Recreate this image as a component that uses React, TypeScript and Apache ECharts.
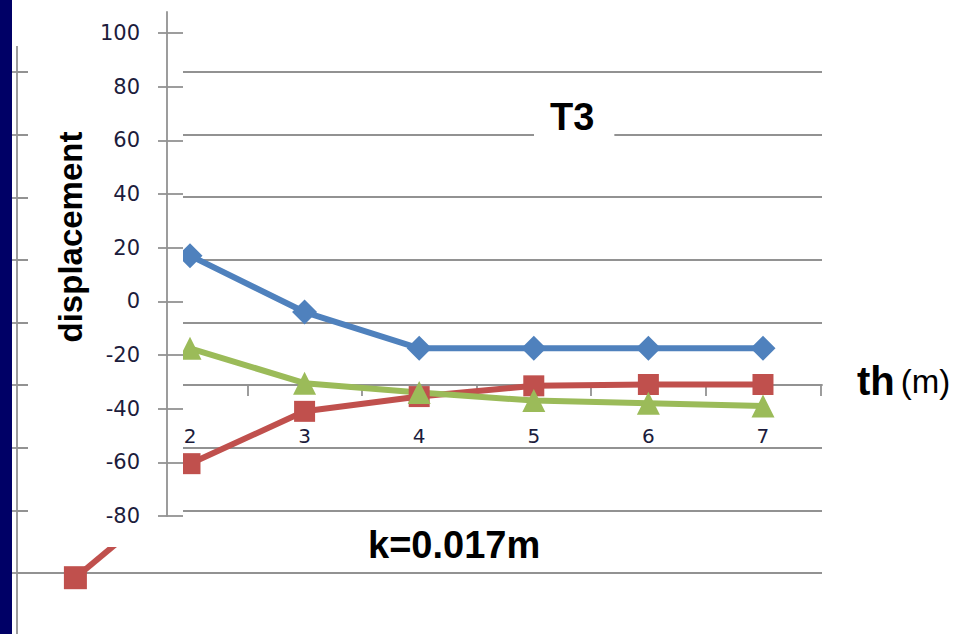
import { useEffect, useRef } from "react";
import * as echarts from "echarts";

// Thickness th (m) and displacement for the three series
const thValues = [2, 3, 4, 5, 6, 7];
const seriesBlue = [17, -4, -17.5, -17.5, -17.5, -17.5];
const seriesRed = [-60.5, -41, -35.5, -31.5, -31, -31];
const seriesGreen = [-17.5, -30.5, -34, -37, -38, -39];

// Axis tick values
const yTickValues = [-80, -60, -40, -20, 0, 20, 40, 60, 80, 100];
const thBoundaries = [2.5, 3.5, 4.5, 5.5, 6.5, 7.5];

// Underlying (partly covered) chart layer
const backTh = [1, 2];
const backRed = [-61.5, -31];

const pairs = (xs: number[], ys: number[]) => xs.map((x, i) => [x, ys[i]]);

const GRID_COLOR = "#929292";
const LABEL_COLOR = "#1c1c3c";
const SANS = "'Liberation Sans', Arial, sans-serif";
const LABEL_FONT = "'DejaVu Sans', Verdana, sans-serif";

export default function App() {
  const ref = useRef<HTMLDivElement>(null);

  useEffect(() => {
    if (!ref.current) return;
    const chart = echarts.init(ref.current, undefined, { renderer: "svg" });

    const thMin = 1.939;
    const thMax = 7.515;

    const gridLine = { show: true, lineStyle: { color: GRID_COLOR, width: 1.8 } };

    const frontTick = (inside: boolean, length: number) => ({
      show: true,
      inside,
      length,
      customValues: yTickValues,
      lineStyle: { color: GRID_COLOR, width: 1.8 },
    });

    const lineSeries = (
      name: string,
      data: number[],
      color: string,
      symbol: string,
      symbolSize: number
    ) => ({
      name,
      type: "line",
      xAxisIndex: 2,
      yAxisIndex: 3,
      data: pairs(thValues, data),
      symbol,
      symbolSize,
      showSymbol: true,
      lineStyle: { color, width: 6 },
      itemStyle: { color, borderWidth: 0 },
      z: 5,
      clip: true,
    });

    chart.setOption({
      animation: false,
      backgroundColor: "#ffffff",
      title: [
        {
          text: "T3",
          left: 534,
          top: 94,
          padding: [4, 20, 6, 16],
          backgroundColor: "#ffffff",
          textStyle: { fontSize: 38, fontWeight: "bold", fontFamily: SANS, color: "#000" },
          z: 8,
        },
        {
          text: "k=0.017m",
          left: 368,
          top: 526,
          padding: 0,
          textStyle: { fontSize: 38, fontWeight: "bold", fontFamily: SANS, color: "#000" },
          z: 8,
        },
      ],
      grid: [
        // underlying layer
        { left: 17, right: 142, top: 72, bottom: 61 },
        // plot gridlines above the th axis
        { left: 183, right: 142, top: 72, bottom: 249 },
        // series layer with the displacement axis
        { left: 183, right: 142, top: 12, bottom: 118 },
        // plot gridlines below the th axis
        { left: 183, right: 142, top: 385, bottom: 61 },
      ],
      xAxis: [
        {
          gridIndex: 0,
          type: "value",
          min: 0.4904,
          max: 7.5148,
          show: false,
          splitLine: { show: false },
        },
        {
          gridIndex: 1,
          type: "value",
          position: "bottom",
          min: thMin,
          max: thMax,
          z: 4,
          axisLine: { show: true, onZero: false, lineStyle: { color: GRID_COLOR, width: 1.8 } },
          axisTick: {
            show: true,
            length: 11,
            customValues: thBoundaries,
            lineStyle: { color: GRID_COLOR, width: 1.8 },
          },
          axisLabel: {
            show: true,
            customValues: thValues,
            margin: 41,
            fontSize: 20,
            fontFamily: LABEL_FONT,
            color: LABEL_COLOR,
            formatter: (v: number) => String(v),
          },
          splitLine: { show: false },
          name: "{a|th}{b|(m)}",
          nameLocation: "end",
          nameGap: 35,
          nameTextStyle: {
            padding: [0, 0, 8, 0],
            rich: {
              a: { fontSize: 40, fontWeight: "bold", fontFamily: SANS, color: "#000" },
              b: { fontSize: 33, fontFamily: SANS, color: "#000", padding: [0, 0, 0, 6] },
            },
          },
        },
        {
          gridIndex: 2,
          type: "value",
          min: thMin,
          max: thMax,
          show: false,
          splitLine: { show: false },
        },
        {
          gridIndex: 3,
          type: "value",
          min: thMin,
          max: thMax,
          show: false,
          splitLine: { show: false },
        },
      ],
      yAxis: [
        {
          gridIndex: 0,
          type: "value",
          position: "left",
          min: -60,
          max: 100,
          interval: 20,
          z: 1,
          axisLine: { show: false },
          axisLabel: { show: false },
          axisTick: { show: true, length: 5, lineStyle: { color: GRID_COLOR, width: 1.8 } },
          splitLine: gridLine,
        },
        {
          gridIndex: 1,
          type: "value",
          position: "left",
          min: 0,
          max: 100,
          interval: 20,
          z: 4,
          axisLine: { show: false },
          axisLabel: { show: false },
          axisTick: { show: false },
          splitLine: gridLine,
        },
        {
          gridIndex: 3,
          type: "value",
          position: "left",
          min: -60,
          max: 0,
          interval: 20,
          z: 4,
          axisLine: { show: false },
          axisLabel: { show: false },
          axisTick: { show: false },
          splitLine: gridLine,
        },
        {
          gridIndex: 2,
          type: "value",
          position: "left",
          min: -80,
          max: 107.8,
          offset: 16,
          z: 7,
          axisLine: { show: true, onZero: false, lineStyle: { color: GRID_COLOR, width: 1.8 } },
          axisTick: frontTick(false, 9),
          axisLabel: {
            show: true,
            customValues: yTickValues,
            margin: 27,
            fontSize: 21,
            fontFamily: LABEL_FONT,
            color: LABEL_COLOR,
          },
          splitLine: { show: false },
        },
        {
          gridIndex: 2,
          type: "value",
          position: "left",
          min: -80,
          max: 107.8,
          offset: 16,
          z: 7,
          axisLine: { show: false, onZero: false },
          axisTick: frontTick(true, 16),
          axisLabel: { show: false },
          splitLine: { show: false },
        },
      ],
      graphic: [
        {
          type: "rect",
          z: 0,
          shape: { x: 0, y: 0, width: 12, height: 634 },
          style: { fill: "#000066" },
        },
        {
          type: "line",
          z: 1,
          shape: { x1: 17, y1: 46, x2: 17, y2: 634 },
          style: { stroke: GRID_COLOR, lineWidth: 1.8 },
        },
        {
          type: "rect",
          z: 3,
          shape: { x: 28, y: 0, width: 802, height: 547 },
          style: { fill: "#ffffff" },
        },
        {
          type: "rect",
          z: 6,
          shape: { x: 168, y: 12, width: 15, height: 520 },
          style: { fill: "#ffffff" },
        },
        {
          type: "text",
          z: 8,
          x: 70,
          y: 237,
          rotation: Math.PI / 2,
          style: {
            text: "displacement",
            fontSize: 33,
            fontWeight: "bold",
            fontFamily: SANS,
            fill: "#000",
            align: "center",
            verticalAlign: "middle",
            textAlign: "center",
            textVerticalAlign: "middle",
          },
        },
      ],
      series: [
        {
          name: "back",
          type: "line",
          xAxisIndex: 0,
          yAxisIndex: 0,
          data: pairs(backTh, backRed),
          symbol: "rect",
          symbolSize: 23,
          lineStyle: { color: "#C0504D", width: 6 },
          itemStyle: { color: "#C0504D" },
          z: 2,
          clip: false,
        },
        lineSeries("S1", seriesBlue, "#4F81BD", "diamond", 25),
        lineSeries("S2", seriesRed, "#C0504D", "rect", 21),
        lineSeries("S3", seriesGreen, "#9BBB59", "triangle", 23),
      ],
    });

    return () => chart.dispose();
  }, []);

  return (
    <div
      ref={ref}
      style={{ position: "fixed", left: 0, top: 0, width: 964, height: 634, background: "#fff" }}
    />
  );
}
